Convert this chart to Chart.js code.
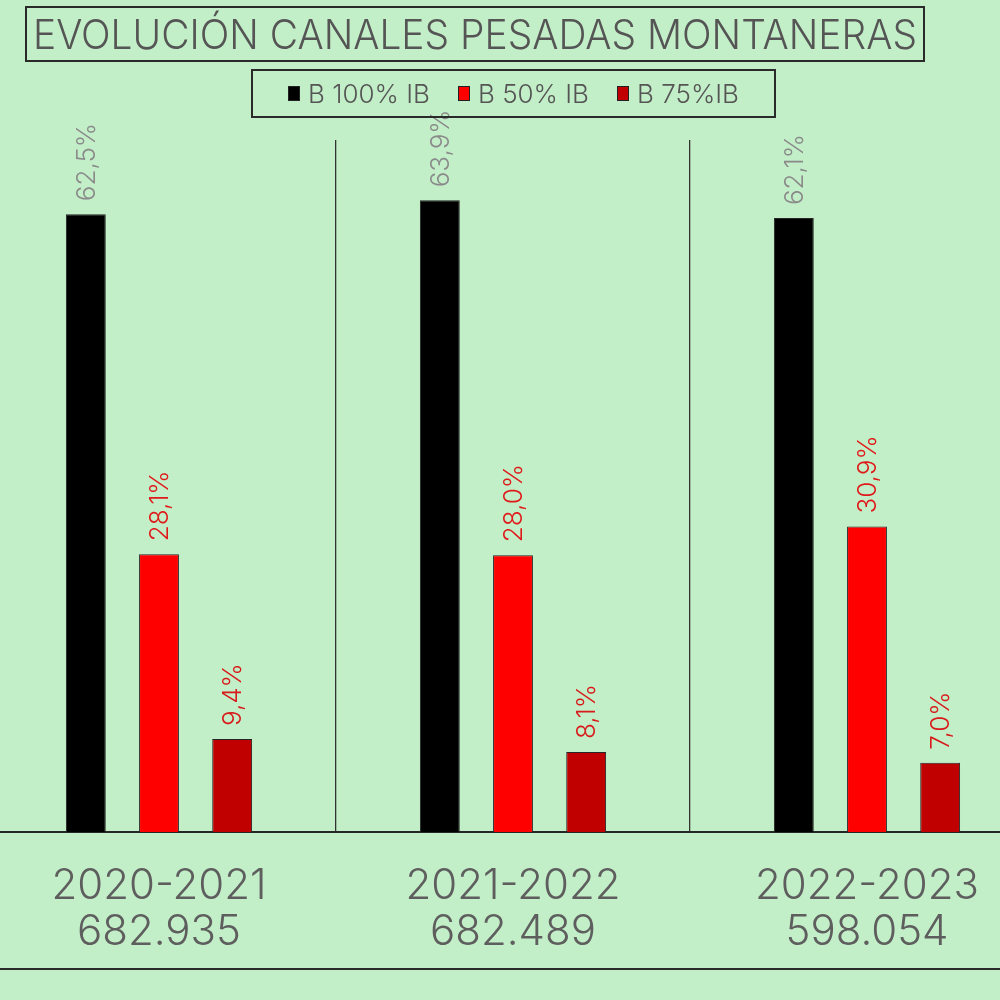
<!DOCTYPE html>
<html>
<head>
<meta charset="utf-8">
<script src="https://cdn.jsdelivr.net/npm/chart.js@4/dist/chart.umd.min.js"></script>
<style>
  html, body { margin:0; padding:0; width:1000px; height:1000px; overflow:hidden; background:#c3efc8; }
  #wrap { position:absolute; left:-18px; top:0; width:1062px; height:1000px; }
  #title { position:absolute; left:25px; top:6px; width:896px; height:52px; border:2px solid #2a2a2a; overflow:hidden; }
  #titletext { position:absolute; left:0; top:0; white-space:nowrap; transform-origin:0 0;
           font-family:Inter,"DejaVu Sans",sans-serif; font-weight:300; color:#555;
           font-size:41px; line-height:52px; }
  #legend { position:absolute; left:251px; top:69px; width:521px; height:45px; border:2px solid #2a2a2a;
            display:flex; justify-content:center; align-items:center; gap:28px;
            font-family:Inter,"DejaVu Sans",sans-serif; font-weight:300; color:#555; font-size:26px; }
  .item { display:flex; align-items:center; gap:8px; }
  .sw { width:12px; height:15px; border:1px solid #222; box-sizing:border-box; }
  #bottomline { position:absolute; left:0; top:968px; width:1000px; height:0; border-top:2px solid #2a2a2a; }
</style>
</head>
<body>
<div id="wrap"><canvas id="c" width="1062" height="1000"></canvas></div>
<div id="title"><span id="titletext"></span></div>
<div id="legend"></div>
<div id="bottomline"></div>
<script>
const chartTitle = "EVOLUCIÓN CANALES PESADAS MONTANERAS";
const seasons = ["2020-2021", "2021-2022", "2022-2023"];
const totals = ["682.935", "682.489", "598.054"];
const seriesNames = ["B 100% IB", "B 50% IB", "B 75%IB"];
const b100 = [62.5, 63.9, 62.1];
const b50 = [28.1, 28.0, 30.9];
const b75 = [9.4, 8.1, 7.0];
const seriesColors = ["#000000", "#ff0000", "#c00000"];
const labelColors = ["#8a8a8a", "#e01a1a", "#d81a1a"];
const FONT = 'Inter,"DejaVu Sans",sans-serif';

const tt = document.getElementById('titletext');
tt.textContent = chartTitle;
const tw = tt.getBoundingClientRect().width;
tt.style.left = '6px';
tt.style.transform = 'scaleX(' + (884 / tw) + ')';

const leg = document.getElementById('legend');
seriesNames.forEach((n, i) => {
  const it = document.createElement('div'); it.className = 'item';
  const sw = document.createElement('div'); sw.className = 'sw'; sw.style.background = seriesColors[i];
  const tx = document.createElement('span'); tx.textContent = n;
  it.appendChild(sw); it.appendChild(tx); leg.appendChild(it);
});

const labelPlugin = {
  id: 'vlabels',
  afterDatasetsDraw(chart) {
    const ctx = chart.ctx;
    chart.data.datasets.forEach((ds, di) => {
      const meta = chart.getDatasetMeta(di);
      meta.data.forEach((bar, i) => {
        const txt = ds.data[i].toFixed(1).replace('.', ',') + '%';
        ctx.save();
        ctx.translate(bar.x + 1, bar.y - 13);
        ctx.rotate(-Math.PI / 2);
        ctx.font = '320 26px ' + FONT;
        ctx.fillStyle = labelColors[di];
        ctx.textAlign = 'left';
        ctx.textBaseline = 'middle';
        ctx.fillText(txt, 0, 0);
        ctx.restore();
      });
    });
  }
};

const data = [b100, b50, b75];
new Chart(document.getElementById('c'), {
  type: 'bar',
  data: {
    labels: seasons.map((s, i) => [s, totals[i]]),
    datasets: seriesNames.map((n, i) => ({
      label: n, data: data[i], backgroundColor: seriesColors[i],
      borderColor: '#262626', borderWidth: 1,
      categoryPercentage: 0.62, barPercentage: 0.545
    }))
  },
  options: {
    responsive: false, animation: false,
    layout: { padding: { top: 140, left: 0, right: 0, bottom: 14 } },
    plugins: { legend: { display: false }, title: { display: false }, tooltip: { enabled: false } },
    scales: {
      x: {
        grid: { display: true, offset: true, color: '#333', lineWidth: 1.3, drawTicks: false },
        border: { display: true, color: '#262626', width: 2 },
        ticks: { color: '#5e5e5e', padding: 31, maxRotation: 0,
                 font: { family: FONT, weight: '300', size: 42, lineHeight: 1.095 } }
      },
      y: { display: false, min: 0, max: 70 }
    }
  },
  plugins: [labelPlugin]
});
</script>
</body>
</html>
